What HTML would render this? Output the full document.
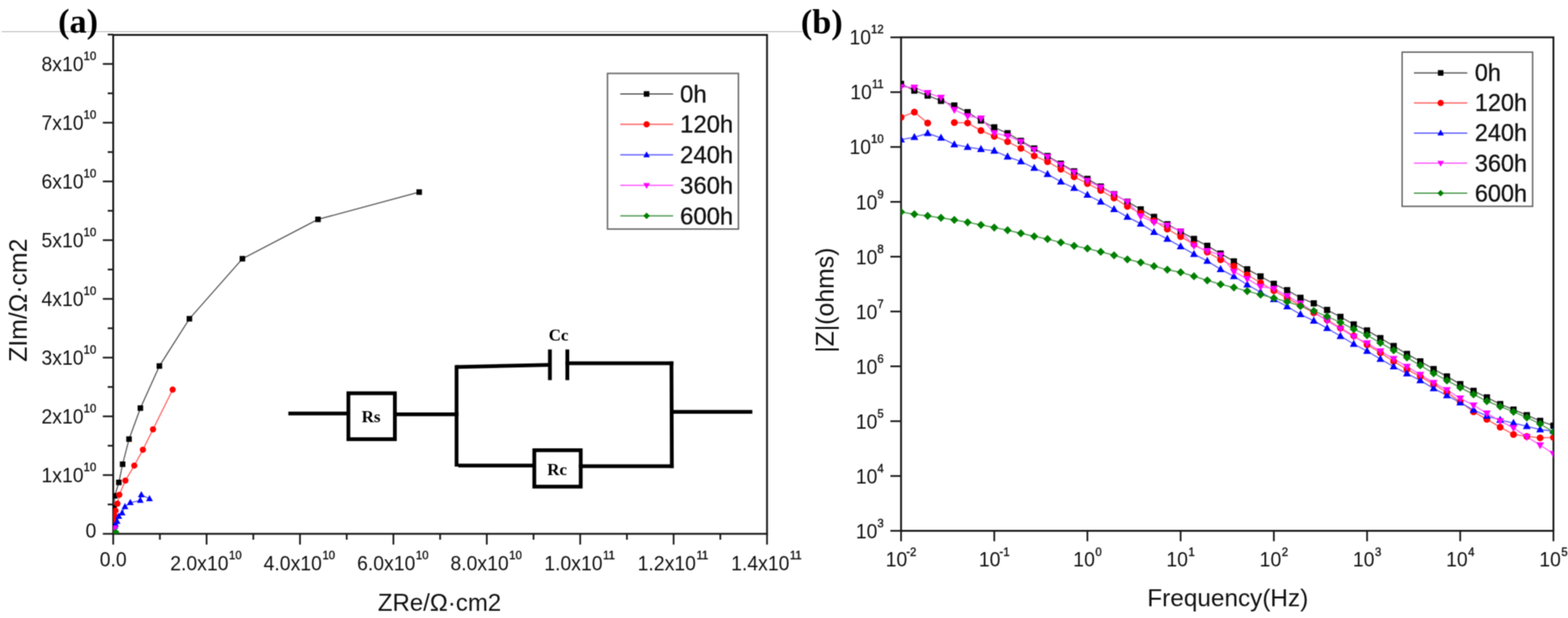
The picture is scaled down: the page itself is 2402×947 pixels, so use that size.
<!DOCTYPE html>
<html><head><meta charset="utf-8"><title>EIS plots</title>
<style>
html,body{margin:0;padding:0;background:#fff;}
body{width:2402px;height:947px;overflow:hidden;}
svg{display:block;}
#w{width:2402px;height:947px;}
</style></head>
<body><div id="w">
<svg width="2402" height="947" viewBox="0 0 2402 947">
<defs><filter id="soft" x="0" y="0" width="1" height="1" color-interpolation-filters="sRGB"><feConvolveMatrix order="3" kernelMatrix="1 2 1 2 4 2 1 2 1" divisor="16" edgeMode="duplicate"/></filter></defs>
<rect width="2402" height="947" fill="#fff"/>
<g filter="url(#soft)">
<rect width="2402" height="947" fill="#fff"/>
<line x1="2.5" y1="48.5" x2="1229" y2="48.5" stroke="#a0a0a0" stroke-width="1.1"/>
<rect x="173.4" y="53.5" width="1001.6" height="764.5" fill="none" stroke="#151515" stroke-width="2.8"/>
<line x1="157.5" y1="818.0" x2="173.4" y2="818.0" stroke="#151515" stroke-width="2.6"/>
<line x1="157.5" y1="728.0" x2="173.4" y2="728.0" stroke="#151515" stroke-width="2.6"/>
<line x1="157.5" y1="638.0" x2="173.4" y2="638.0" stroke="#151515" stroke-width="2.6"/>
<line x1="157.5" y1="548.0" x2="173.4" y2="548.0" stroke="#151515" stroke-width="2.6"/>
<line x1="157.5" y1="458.0" x2="173.4" y2="458.0" stroke="#151515" stroke-width="2.6"/>
<line x1="157.5" y1="368.0" x2="173.4" y2="368.0" stroke="#151515" stroke-width="2.6"/>
<line x1="157.5" y1="278.0" x2="173.4" y2="278.0" stroke="#151515" stroke-width="2.6"/>
<line x1="157.5" y1="188.0" x2="173.4" y2="188.0" stroke="#151515" stroke-width="2.6"/>
<line x1="157.5" y1="98.0" x2="173.4" y2="98.0" stroke="#151515" stroke-width="2.6"/>
<line x1="165" y1="773.0" x2="173.4" y2="773.0" stroke="#151515" stroke-width="2.6"/>
<line x1="165" y1="683.0" x2="173.4" y2="683.0" stroke="#151515" stroke-width="2.6"/>
<line x1="165" y1="593.0" x2="173.4" y2="593.0" stroke="#151515" stroke-width="2.6"/>
<line x1="165" y1="503.0" x2="173.4" y2="503.0" stroke="#151515" stroke-width="2.6"/>
<line x1="165" y1="413.0" x2="173.4" y2="413.0" stroke="#151515" stroke-width="2.6"/>
<line x1="165" y1="323.0" x2="173.4" y2="323.0" stroke="#151515" stroke-width="2.6"/>
<line x1="165" y1="233.0" x2="173.4" y2="233.0" stroke="#151515" stroke-width="2.6"/>
<line x1="165" y1="143.0" x2="173.4" y2="143.0" stroke="#151515" stroke-width="2.6"/>
<line x1="165" y1="53.0" x2="173.4" y2="53.0" stroke="#151515" stroke-width="2.6"/>
<line x1="173.4" y1="818.0" x2="173.4" y2="834.5" stroke="#151515" stroke-width="2.6"/>
<line x1="316.48571428571427" y1="818.0" x2="316.48571428571427" y2="834.5" stroke="#151515" stroke-width="2.6"/>
<line x1="459.57142857142856" y1="818.0" x2="459.57142857142856" y2="834.5" stroke="#151515" stroke-width="2.6"/>
<line x1="602.6571428571428" y1="818.0" x2="602.6571428571428" y2="834.5" stroke="#151515" stroke-width="2.6"/>
<line x1="745.7428571428571" y1="818.0" x2="745.7428571428571" y2="834.5" stroke="#151515" stroke-width="2.6"/>
<line x1="888.8285714285714" y1="818.0" x2="888.8285714285714" y2="834.5" stroke="#151515" stroke-width="2.6"/>
<line x1="1031.9142857142858" y1="818.0" x2="1031.9142857142858" y2="834.5" stroke="#151515" stroke-width="2.6"/>
<line x1="1175.0" y1="818.0" x2="1175.0" y2="834.5" stroke="#151515" stroke-width="2.6"/>
<line x1="244.94285714285715" y1="818.0" x2="244.94285714285715" y2="827" stroke="#151515" stroke-width="2.6"/>
<line x1="388.02857142857147" y1="818.0" x2="388.02857142857147" y2="827" stroke="#151515" stroke-width="2.6"/>
<line x1="531.1142857142858" y1="818.0" x2="531.1142857142858" y2="827" stroke="#151515" stroke-width="2.6"/>
<line x1="674.2" y1="818.0" x2="674.2" y2="827" stroke="#151515" stroke-width="2.6"/>
<line x1="817.2857142857143" y1="818.0" x2="817.2857142857143" y2="827" stroke="#151515" stroke-width="2.6"/>
<line x1="960.3714285714285" y1="818.0" x2="960.3714285714285" y2="827" stroke="#151515" stroke-width="2.6"/>
<line x1="1103.457142857143" y1="818.0" x2="1103.457142857143" y2="827" stroke="#151515" stroke-width="2.6"/>
<g font-family="Liberation Sans, Arial, sans-serif" fill="#111">
<text x="147.5" y="721.5" font-size="17.5" text-anchor="end" stroke="#111" stroke-width="0.5">10</text>
<text transform="translate(128.0,739.0) scale(0.93,1)" font-size="32.0" text-anchor="end">1x10</text>
<text x="147.5" y="631.5" font-size="17.5" text-anchor="end" stroke="#111" stroke-width="0.5">10</text>
<text transform="translate(128.0,649.0) scale(0.93,1)" font-size="32.0" text-anchor="end">2x10</text>
<text x="147.5" y="541.5" font-size="17.5" text-anchor="end" stroke="#111" stroke-width="0.5">10</text>
<text transform="translate(128.0,559.0) scale(0.93,1)" font-size="32.0" text-anchor="end">3x10</text>
<text x="147.5" y="451.5" font-size="17.5" text-anchor="end" stroke="#111" stroke-width="0.5">10</text>
<text transform="translate(128.0,469.0) scale(0.93,1)" font-size="32.0" text-anchor="end">4x10</text>
<text x="147.5" y="361.5" font-size="17.5" text-anchor="end" stroke="#111" stroke-width="0.5">10</text>
<text transform="translate(128.0,379.0) scale(0.93,1)" font-size="32.0" text-anchor="end">5x10</text>
<text x="147.5" y="271.5" font-size="17.5" text-anchor="end" stroke="#111" stroke-width="0.5">10</text>
<text transform="translate(128.0,289.0) scale(0.93,1)" font-size="32.0" text-anchor="end">6x10</text>
<text x="147.5" y="181.5" font-size="17.5" text-anchor="end" stroke="#111" stroke-width="0.5">10</text>
<text transform="translate(128.0,199.0) scale(0.93,1)" font-size="32.0" text-anchor="end">7x10</text>
<text x="147.5" y="91.5" font-size="17.5" text-anchor="end" stroke="#111" stroke-width="0.5">10</text>
<text transform="translate(128.0,109.0) scale(0.93,1)" font-size="32.0" text-anchor="end">8x10</text>
<text transform="translate(147.5,824.0) scale(0.93,1)" font-size="32.0" text-anchor="end">0</text>
<text transform="translate(152.7,867.5) scale(0.93,1)" font-size="32.0">0.0</text>
<text transform="translate(260.7,874.0) scale(0.93,1)" font-size="32.0">2.0x10</text>
<text x="350.8" y="856.7" font-size="17.5" stroke="#111" stroke-width="0.5">10</text>
<text transform="translate(403.8,874.0) scale(0.93,1)" font-size="32.0">4.0x10</text>
<text x="493.9" y="856.7" font-size="17.5" stroke="#111" stroke-width="0.5">10</text>
<text transform="translate(546.9,874.0) scale(0.93,1)" font-size="32.0">6.0x10</text>
<text x="637.0" y="856.7" font-size="17.5" stroke="#111" stroke-width="0.5">10</text>
<text transform="translate(690.0,874.0) scale(0.93,1)" font-size="32.0">8.0x10</text>
<text x="780.0" y="856.7" font-size="17.5" stroke="#111" stroke-width="0.5">10</text>
<text transform="translate(833.7,874.0) scale(0.93,1)" font-size="32.0">1.0x10</text>
<text x="923.8" y="856.7" font-size="17.5" stroke="#111" stroke-width="0.5">11</text>
<text transform="translate(976.8,874.0) scale(0.93,1)" font-size="32.0">1.2x10</text>
<text x="1066.9" y="856.7" font-size="17.5" stroke="#111" stroke-width="0.5">11</text>
<text transform="translate(1119.9,874.0) scale(0.93,1)" font-size="32.0">1.4x10</text>
<text x="1209.9" y="856.7" font-size="17.5" stroke="#111" stroke-width="0.5">11</text>
<text x="673.3" y="935.5" font-size="36.8" text-anchor="middle">ZRe/Ω·cm2</text>
<text transform="translate(40.5,460) rotate(-90)" x="0" y="0" font-size="38" text-anchor="middle">ZIm/Ω·cm2</text>
</g>
<text x="119.6" y="50" font-family="Liberation Serif, Times New Roman, serif" font-weight="bold" font-size="52.5" text-anchor="middle" fill="#000">(a)</text>
<text x="1258.8" y="51" font-family="Liberation Serif, Times New Roman, serif" font-weight="bold" font-size="52.5" text-anchor="middle" fill="#000">(b)</text>
<defs><clipPath id="cl"><rect x="173.4" y="53.5" width="1001.6" height="764.5"/></clipPath><clipPath id="cr"><rect x="1380.3" y="57.2" width="999.3999999999999" height="756.1999999999999"/></clipPath></defs>
<g clip-path="url(#cl)">
<path d="M642.1,294.4L487.1,336.2L371.4,396.5L290.2,488.5L244.2,560.9L215.1,625.4L197.7,672.9L187.8,711.4L182.1,739.2L175.7,759.9L174.6,778.0L174.0,795.0" fill="none" stroke="#5a5a5a" stroke-width="1.8"/>
<path d="M264.5,597.1L234.4,657.9L218.9,689.2L205.7,713.5L192.1,736.4L182.8,758.2L179.9,771.8L177.0,782.5L175.6,790.5L174.8,797.0" fill="none" stroke="#ff6060" stroke-width="1.8"/>
<path d="M229.0,764.2L216.5,758.2L214.8,766.8L199.6,770.3L191.4,776.4L187.0,785.9L181.9,791.1L179.3,798.9L177.0,803.5L176.0,806.5" fill="none" stroke="#6060ff" stroke-width="1.8"/>
<path d="M175.4,809.0L174.8,810.5" fill="none" stroke="#ff60ff" stroke-width="1.8"/>
<path d="M177.5,815.3L176.5,816.5" fill="none" stroke="#4c9a4c" stroke-width="1.8"/>
<rect x="637.9" y="290.1" width="8.5" height="8.5" fill="#000"/>
<rect x="482.9" y="331.9" width="8.5" height="8.5" fill="#000"/>
<rect x="367.1" y="392.2" width="8.5" height="8.5" fill="#000"/>
<rect x="285.9" y="484.2" width="8.5" height="8.5" fill="#000"/>
<rect x="239.9" y="556.6" width="8.5" height="8.5" fill="#000"/>
<rect x="210.8" y="621.1" width="8.5" height="8.5" fill="#000"/>
<rect x="193.4" y="668.6" width="8.5" height="8.5" fill="#000"/>
<rect x="183.6" y="707.1" width="8.5" height="8.5" fill="#000"/>
<rect x="177.8" y="735.0" width="8.5" height="8.5" fill="#000"/>
<rect x="171.4" y="755.6" width="8.5" height="8.5" fill="#000"/>
<rect x="170.3" y="773.8" width="8.5" height="8.5" fill="#000"/>
<rect x="169.8" y="790.8" width="8.5" height="8.5" fill="#000"/>
<circle cx="264.5" cy="597.1" r="4.75" fill="#f00"/>
<circle cx="234.4" cy="657.9" r="4.75" fill="#f00"/>
<circle cx="218.9" cy="689.2" r="4.75" fill="#f00"/>
<circle cx="205.7" cy="713.5" r="4.75" fill="#f00"/>
<circle cx="192.1" cy="736.4" r="4.75" fill="#f00"/>
<circle cx="182.8" cy="758.2" r="4.75" fill="#f00"/>
<circle cx="179.9" cy="771.8" r="4.75" fill="#f00"/>
<circle cx="177.0" cy="782.5" r="4.75" fill="#f00"/>
<circle cx="175.6" cy="790.5" r="4.75" fill="#f00"/>
<circle cx="174.8" cy="797.0" r="4.75" fill="#f00"/>
<path d="M229.0,758.5L234.2,768.0L223.8,768.0Z" fill="#00f"/>
<path d="M216.5,752.5L221.8,762.0L211.2,762.0Z" fill="#00f"/>
<path d="M214.8,761.1L220.1,770.6L209.6,770.6Z" fill="#00f"/>
<path d="M199.6,764.6L204.8,774.1L194.3,774.1Z" fill="#00f"/>
<path d="M191.4,770.7L196.7,780.2L186.2,780.2Z" fill="#00f"/>
<path d="M187.0,780.2L192.2,789.7L181.8,789.7Z" fill="#00f"/>
<path d="M181.9,785.4L187.2,794.9L176.7,794.9Z" fill="#00f"/>
<path d="M179.3,793.2L184.6,802.7L174.1,802.7Z" fill="#00f"/>
<path d="M177.0,797.8L182.2,807.3L171.8,807.3Z" fill="#00f"/>
<path d="M176.0,800.8L181.2,810.3L170.8,810.3Z" fill="#00f"/>
<path d="M175.4,814.7L180.7,805.2L170.2,805.2Z" fill="#f0f"/>
<path d="M174.8,816.2L180.1,806.7L169.6,806.7Z" fill="#f0f"/>
<path d="M177.5,810.0L182.8,815.3L177.5,820.5L172.2,815.3Z" fill="#008000"/>
<path d="M176.5,811.2L181.8,816.5L176.5,821.8L171.2,816.5Z" fill="#008000"/>
</g>
<rect x="930.6" y="112.5" width="200.6" height="238.5" fill="#fff" stroke="#666" stroke-width="2.2"/>
<line x1="950.2" y1="143.9" x2="1031.2" y2="143.9" stroke="#5a5a5a" stroke-width="2"/>
<rect x="986.2" y="139.7" width="8.5" height="8.5" fill="#000"/>
<text x="1041.8" y="156.7" font-family="Liberation Sans, Arial, sans-serif" font-size="36.6" fill="#111" stroke="#111" stroke-width="0.4">0h</text>
<line x1="950.2" y1="190.6" x2="1031.2" y2="190.6" stroke="#ff6060" stroke-width="2"/>
<circle cx="990.5" cy="190.6" r="4.75" fill="#f00"/>
<text x="1041.8" y="203.4" font-family="Liberation Sans, Arial, sans-serif" font-size="36.6" fill="#111" stroke="#111" stroke-width="0.4">120h</text>
<line x1="950.2" y1="237.3" x2="1031.2" y2="237.3" stroke="#6060ff" stroke-width="2"/>
<path d="M990.5,231.9L995.5,240.9L985.5,240.9Z" fill="#00f"/>
<text x="1041.8" y="250.1" font-family="Liberation Sans, Arial, sans-serif" font-size="36.6" fill="#111" stroke="#111" stroke-width="0.4">240h</text>
<line x1="950.2" y1="284.0" x2="1031.2" y2="284.0" stroke="#ff60ff" stroke-width="2"/>
<path d="M990.5,289.4L995.5,280.4L985.5,280.4Z" fill="#f0f"/>
<text x="1041.8" y="296.8" font-family="Liberation Sans, Arial, sans-serif" font-size="36.6" fill="#111" stroke="#111" stroke-width="0.4">360h</text>
<line x1="950.2" y1="330.7" x2="1031.2" y2="330.7" stroke="#4c9a4c" stroke-width="2"/>
<path d="M990.5,325.7L995.5,330.7L990.5,335.7L985.5,330.7Z" fill="#008000"/>
<text x="1041.8" y="343.5" font-family="Liberation Sans, Arial, sans-serif" font-size="36.6" fill="#111" stroke="#111" stroke-width="0.4">600h</text>
<g stroke="#000" stroke-width="5.8" fill="none" stroke-linecap="square">
<line x1="441.7" y1="633.6" x2="533.7" y2="633.6" stroke-linecap="butt"/>
<rect x="533.7" y="602.6" width="71.2" height="70.4"/>
<line x1="604.9" y1="634.8" x2="699.4" y2="634.8"/>
<line x1="699.4" y1="559.4" x2="699.4" y2="715" stroke-linecap="butt"/>
<line x1="699.4" y1="562.3" x2="842.4" y2="559.2" stroke-linecap="butt"/>
<line x1="842.4" y1="535.5" x2="842.4" y2="582.5" stroke-linecap="butt"/>
<line x1="869.1" y1="535.5" x2="869.1" y2="582.5" stroke-linecap="butt"/>
<line x1="869.1" y1="556.7" x2="1028.6" y2="556.7"/>
<line x1="1028.6" y1="556.7" x2="1029.2" y2="714.4"/>
<line x1="702" y1="713.4" x2="818.5" y2="713.4" stroke-linecap="butt"/>
<rect x="818.5" y="689.9" width="71.1" height="55.8"/>
<line x1="889.6" y1="714.4" x2="1029.2" y2="714.4"/>
<line x1="1029.2" y1="631.2" x2="1152.5" y2="631.2" stroke-linecap="butt"/>
</g>
<g font-family="Liberation Serif, Times New Roman, serif" font-weight="bold" font-size="26" fill="#000" text-anchor="middle">
<text x="568.4" y="647">Rs</text>
<text x="853.4" y="727.5">Rc</text>
<text x="855.6" y="521.5">Cc</text>
</g>
<rect x="1380.3" y="57.2" width="999.3999999999999" height="756.1999999999999" fill="none" stroke="#151515" stroke-width="2.8"/>
<line x1="1364" y1="57.2" x2="1380.3" y2="57.2" stroke="#151515" stroke-width="2.6"/>
<line x1="1364" y1="141.2" x2="1380.3" y2="141.2" stroke="#151515" stroke-width="2.6"/>
<line x1="1364" y1="225.2" x2="1380.3" y2="225.2" stroke="#151515" stroke-width="2.6"/>
<line x1="1364" y1="309.3" x2="1380.3" y2="309.3" stroke="#151515" stroke-width="2.6"/>
<line x1="1364" y1="393.3" x2="1380.3" y2="393.3" stroke="#151515" stroke-width="2.6"/>
<line x1="1364" y1="477.3" x2="1380.3" y2="477.3" stroke="#151515" stroke-width="2.6"/>
<line x1="1364" y1="561.3" x2="1380.3" y2="561.3" stroke="#151515" stroke-width="2.6"/>
<line x1="1364" y1="645.4" x2="1380.3" y2="645.4" stroke="#151515" stroke-width="2.6"/>
<line x1="1364" y1="729.4" x2="1380.3" y2="729.4" stroke="#151515" stroke-width="2.6"/>
<line x1="1364" y1="813.4" x2="1380.3" y2="813.4" stroke="#151515" stroke-width="2.6"/>
<line x1="1380.3" y1="813.4" x2="1380.3" y2="829.4" stroke="#151515" stroke-width="2.6"/>
<line x1="1523.1" y1="813.4" x2="1523.1" y2="829.4" stroke="#151515" stroke-width="2.6"/>
<line x1="1665.8" y1="813.4" x2="1665.8" y2="829.4" stroke="#151515" stroke-width="2.6"/>
<line x1="1808.6" y1="813.4" x2="1808.6" y2="829.4" stroke="#151515" stroke-width="2.6"/>
<line x1="1951.4" y1="813.4" x2="1951.4" y2="829.4" stroke="#151515" stroke-width="2.6"/>
<line x1="2094.2" y1="813.4" x2="2094.2" y2="829.4" stroke="#151515" stroke-width="2.6"/>
<line x1="2236.9" y1="813.4" x2="2236.9" y2="829.4" stroke="#151515" stroke-width="2.6"/>
<line x1="2379.7" y1="813.4" x2="2379.7" y2="829.4" stroke="#151515" stroke-width="2.6"/>
<g font-family="Liberation Sans, Arial, sans-serif" fill="#111">
<text x="1353.8" y="51.4" font-size="17.5" text-anchor="end" stroke="#111" stroke-width="0.5">12</text>
<text transform="translate(1334.3,68.4) scale(0.93,1)" font-size="32.0" text-anchor="end">10</text>
<text x="1353.8" y="135.4" font-size="17.5" text-anchor="end" stroke="#111" stroke-width="0.5">11</text>
<text transform="translate(1335.6,152.4) scale(0.93,1)" font-size="32.0" text-anchor="end">10</text>
<text x="1353.8" y="219.4" font-size="17.5" text-anchor="end" stroke="#111" stroke-width="0.5">10</text>
<text transform="translate(1334.3,236.4) scale(0.93,1)" font-size="32.0" text-anchor="end">10</text>
<text x="1353.8" y="303.5" font-size="17.5" text-anchor="end" stroke="#111" stroke-width="0.5">9</text>
<text transform="translate(1344.1,320.5) scale(0.93,1)" font-size="32.0" text-anchor="end">10</text>
<text x="1353.8" y="387.5" font-size="17.5" text-anchor="end" stroke="#111" stroke-width="0.5">8</text>
<text transform="translate(1344.1,404.5) scale(0.93,1)" font-size="32.0" text-anchor="end">10</text>
<text x="1353.8" y="471.5" font-size="17.5" text-anchor="end" stroke="#111" stroke-width="0.5">7</text>
<text transform="translate(1344.1,488.5) scale(0.93,1)" font-size="32.0" text-anchor="end">10</text>
<text x="1353.8" y="555.5" font-size="17.5" text-anchor="end" stroke="#111" stroke-width="0.5">6</text>
<text transform="translate(1344.1,572.5) scale(0.93,1)" font-size="32.0" text-anchor="end">10</text>
<text x="1353.8" y="639.6" font-size="17.5" text-anchor="end" stroke="#111" stroke-width="0.5">5</text>
<text transform="translate(1344.1,656.6) scale(0.93,1)" font-size="32.0" text-anchor="end">10</text>
<text x="1353.8" y="723.6" font-size="17.5" text-anchor="end" stroke="#111" stroke-width="0.5">4</text>
<text transform="translate(1344.1,740.6) scale(0.93,1)" font-size="32.0" text-anchor="end">10</text>
<text x="1353.8" y="807.6" font-size="17.5" text-anchor="end" stroke="#111" stroke-width="0.5">3</text>
<text transform="translate(1344.1,824.6) scale(0.93,1)" font-size="32.0" text-anchor="end">10</text>
<text transform="translate(1356.7,868.0) scale(0.93,1)" font-size="32.0">10</text>
<text x="1388.3" y="851.8" font-size="17.5" stroke="#111" stroke-width="0.5">-2</text>
<text transform="translate(1499.5,868.0) scale(0.93,1)" font-size="32.0">10</text>
<text x="1531.1" y="851.8" font-size="17.5" stroke="#111" stroke-width="0.5">-1</text>
<text transform="translate(1644.1,868.0) scale(0.93,1)" font-size="32.0">10</text>
<text x="1677.9" y="851.8" font-size="17.5" stroke="#111" stroke-width="0.5">0</text>
<text transform="translate(1786.8,868.0) scale(0.93,1)" font-size="32.0">10</text>
<text x="1820.6" y="851.8" font-size="17.5" stroke="#111" stroke-width="0.5">1</text>
<text transform="translate(1929.6,868.0) scale(0.93,1)" font-size="32.0">10</text>
<text x="1963.4" y="851.8" font-size="17.5" stroke="#111" stroke-width="0.5">2</text>
<text transform="translate(2072.4,868.0) scale(0.93,1)" font-size="32.0">10</text>
<text x="2106.2" y="851.8" font-size="17.5" stroke="#111" stroke-width="0.5">3</text>
<text transform="translate(2215.2,868.0) scale(0.93,1)" font-size="32.0">10</text>
<text x="2249.0" y="851.8" font-size="17.5" stroke="#111" stroke-width="0.5">4</text>
<text transform="translate(2357.9,868.0) scale(0.93,1)" font-size="32.0">10</text>
<text x="2391.7" y="851.8" font-size="17.5" stroke="#111" stroke-width="0.5">5</text>
<text x="1880.8" y="928.7" font-size="37.3" text-anchor="middle">Frequency(Hz)</text>
<text transform="translate(1277,460) rotate(-90)" font-size="38" text-anchor="middle">|Z|(ohms)</text>
</g>
<g clip-path="url(#cr)">
<path d="M1380.3,128.5L1400.7,138.8L1421.1,146.4L1441.5,154.5L1461.9,161.7L1482.3,172.0L1502.7,184.7L1523.1,195.2L1543.5,204.2L1563.9,215.9L1584.3,227.5L1604.7,239.2L1625.1,250.8L1645.4,262.5L1665.8,274.2L1686.2,285.8L1706.6,297.5L1727.0,309.1L1747.4,320.8L1767.8,332.4L1788.2,343.6L1808.6,354.9L1829.0,366.1L1849.4,376.6L1869.8,388.6L1890.2,400.5L1910.6,412.6L1931.0,423.5L1951.4,435.0L1971.8,444.7L1992.2,456.3L2012.6,464.8L2033.0,475.0L2053.4,485.5L2073.8,497.2L2094.2,506.4L2114.6,518.1L2134.9,530.3L2155.3,542.4L2175.7,553.8L2196.1,565.5L2216.5,576.9L2236.9,588.6L2257.3,599.0L2277.7,609.0L2298.1,619.3L2318.5,627.6L2338.9,636.2L2359.3,645.0L2379.7,652.4" fill="none" stroke="#5a5a5a" stroke-width="1.8"/>
<path d="M1380.3,179.7L1400.7,171.7L1421.1,188.5" fill="none" stroke="#ff6060" stroke-width="1.8"/>
<path d="M1461.9,187.8L1482.3,188.4L1502.7,200.1L1523.1,208.9L1543.5,217.1L1563.9,227.3L1584.3,238.9L1604.7,247.8L1625.1,259.2L1645.4,270.9L1665.8,281.3L1686.2,291.8L1706.6,303.4L1727.0,316.2L1747.4,326.6L1767.8,338.2L1788.2,351.0L1808.6,362.6L1829.0,374.4L1849.4,386.2L1869.8,398.0L1890.2,407.7L1910.6,421.1L1931.0,433.3L1951.4,445.4L1971.8,456.7L1992.2,468.1L2012.6,479.4L2033.0,490.3L2053.4,502.5L2073.8,514.6L2094.2,528.3L2114.6,540.5L2134.9,553.8L2155.3,566.0L2175.7,576.9L2196.1,589.0L2216.5,601.2L2236.9,615.8L2257.3,631.0L2277.7,642.6L2298.1,654.6L2318.5,665.7L2338.9,668.7L2359.3,670.9L2379.7,670.4" fill="none" stroke="#ff6060" stroke-width="1.8"/>
<path d="M1380.3,213.9L1400.7,210.3L1421.1,204.3L1441.5,211.3L1461.9,221.4L1482.3,225.4L1502.7,228.6L1523.1,231.1L1543.5,240.1L1563.9,247.5L1584.3,257.5L1604.7,266.9L1625.1,278.5L1645.4,288.3L1665.8,298.7L1686.2,309.2L1706.6,320.8L1727.0,332.4L1747.4,342.9L1767.8,355.7L1788.2,366.1L1808.6,377.7L1829.0,389.4L1849.4,400.0L1869.8,412.6L1890.2,423.5L1910.6,436.2L1931.0,447.8L1951.4,458.8L1971.8,469.7L1992.2,481.8L2012.6,491.6L2033.0,503.0L2053.4,515.1L2073.8,527.3L2094.2,538.0L2114.6,550.2L2134.9,561.8L2155.3,572.5L2175.7,583.0L2196.1,595.1L2216.5,606.0L2236.9,617.0L2257.3,628.3L2277.7,637.4L2298.1,643.6L2318.5,648.3L2338.9,653.1L2359.3,658.3L2379.7,660.5" fill="none" stroke="#6060ff" stroke-width="1.8"/>
<path d="M1380.3,133.0L1400.7,134.0L1421.1,142.3L1441.5,149.5L1461.9,168.0L1482.3,177.8L1502.7,181.4L1523.1,203.7L1543.5,208.5L1563.9,217.0L1584.3,229.4L1604.7,240.3L1625.1,252.3L1645.4,263.9L1665.8,276.7L1686.2,287.1L1706.6,297.6L1727.0,309.2L1747.4,331.3L1767.8,340.6L1788.2,345.2L1808.6,354.5L1829.0,376.6L1849.4,384.3L1869.8,390.7L1890.2,416.2L1910.6,427.2L1931.0,439.3L1951.4,442.2L1971.8,453.9L1992.2,464.8L2012.6,478.2L2033.0,491.6L2053.4,503.7L2073.8,515.9L2094.2,525.9L2114.6,538.0L2134.9,549.7L2155.3,561.8L2175.7,574.0L2196.1,586.6L2216.5,597.5L2236.9,610.4L2257.3,621.0L2277.7,633.2L2298.1,645.0L2318.5,655.6L2338.9,669.4L2359.3,682.0L2379.7,695.3" fill="none" stroke="#ff60ff" stroke-width="1.8"/>
<path d="M1380.3,324.8L1400.7,328.3L1421.1,330.8L1441.5,333.8L1461.9,337.0L1482.3,340.6L1502.7,344.6L1523.1,348.6L1543.5,352.8L1563.9,357.5L1584.3,362.1L1604.7,366.3L1625.1,371.5L1645.4,376.6L1665.8,380.8L1686.2,385.9L1706.6,391.2L1727.0,397.5L1747.4,402.1L1767.8,407.9L1788.2,413.3L1808.6,417.2L1829.0,423.4L1849.4,429.6L1869.8,435.7L1890.2,440.5L1910.6,446.1L1931.0,451.5L1951.4,456.8L1971.8,462.4L1992.2,469.0L2012.6,476.5L2033.0,485.0L2053.4,494.0L2073.8,504.4L2094.2,513.7L2114.6,525.4L2134.9,536.8L2155.3,547.7L2175.7,559.9L2196.1,572.0L2216.5,583.0L2236.9,593.9L2257.3,604.4L2277.7,614.7L2298.1,622.9L2318.5,631.0L2338.9,639.8L2359.3,649.5L2379.7,662.0" fill="none" stroke="#4c9a4c" stroke-width="1.8"/>
<rect x="1375.5" y="123.8" width="9.5" height="9.5" fill="#000"/>
<rect x="1395.9" y="134.1" width="9.5" height="9.5" fill="#000"/>
<rect x="1416.3" y="141.7" width="9.5" height="9.5" fill="#000"/>
<rect x="1436.7" y="149.8" width="9.5" height="9.5" fill="#000"/>
<rect x="1457.1" y="156.9" width="9.5" height="9.5" fill="#000"/>
<rect x="1477.5" y="167.2" width="9.5" height="9.5" fill="#000"/>
<rect x="1497.9" y="179.9" width="9.5" height="9.5" fill="#000"/>
<rect x="1518.3" y="190.4" width="9.5" height="9.5" fill="#000"/>
<rect x="1538.7" y="199.4" width="9.5" height="9.5" fill="#000"/>
<rect x="1559.1" y="211.1" width="9.5" height="9.5" fill="#000"/>
<rect x="1579.5" y="222.8" width="9.5" height="9.5" fill="#000"/>
<rect x="1599.9" y="234.4" width="9.5" height="9.5" fill="#000"/>
<rect x="1620.3" y="246.1" width="9.5" height="9.5" fill="#000"/>
<rect x="1640.7" y="257.8" width="9.5" height="9.5" fill="#000"/>
<rect x="1661.1" y="269.4" width="9.5" height="9.5" fill="#000"/>
<rect x="1681.5" y="281.1" width="9.5" height="9.5" fill="#000"/>
<rect x="1701.9" y="292.7" width="9.5" height="9.5" fill="#000"/>
<rect x="1722.3" y="304.4" width="9.5" height="9.5" fill="#000"/>
<rect x="1742.7" y="316.1" width="9.5" height="9.5" fill="#000"/>
<rect x="1763.1" y="327.6" width="9.5" height="9.5" fill="#000"/>
<rect x="1783.5" y="338.9" width="9.5" height="9.5" fill="#000"/>
<rect x="1803.9" y="350.1" width="9.5" height="9.5" fill="#000"/>
<rect x="1824.3" y="361.4" width="9.5" height="9.5" fill="#000"/>
<rect x="1844.7" y="371.9" width="9.5" height="9.5" fill="#000"/>
<rect x="1865.1" y="383.8" width="9.5" height="9.5" fill="#000"/>
<rect x="1885.4" y="395.8" width="9.5" height="9.5" fill="#000"/>
<rect x="1905.8" y="407.9" width="9.5" height="9.5" fill="#000"/>
<rect x="1926.2" y="418.8" width="9.5" height="9.5" fill="#000"/>
<rect x="1946.6" y="430.2" width="9.5" height="9.5" fill="#000"/>
<rect x="1967.0" y="439.9" width="9.5" height="9.5" fill="#000"/>
<rect x="1987.4" y="451.6" width="9.5" height="9.5" fill="#000"/>
<rect x="2007.8" y="460.1" width="9.5" height="9.5" fill="#000"/>
<rect x="2028.2" y="470.2" width="9.5" height="9.5" fill="#000"/>
<rect x="2048.6" y="480.8" width="9.5" height="9.5" fill="#000"/>
<rect x="2069.0" y="492.4" width="9.5" height="9.5" fill="#000"/>
<rect x="2089.4" y="501.6" width="9.5" height="9.5" fill="#000"/>
<rect x="2109.8" y="513.4" width="9.5" height="9.5" fill="#000"/>
<rect x="2130.2" y="525.5" width="9.5" height="9.5" fill="#000"/>
<rect x="2150.6" y="537.6" width="9.5" height="9.5" fill="#000"/>
<rect x="2171.0" y="549.0" width="9.5" height="9.5" fill="#000"/>
<rect x="2191.4" y="560.8" width="9.5" height="9.5" fill="#000"/>
<rect x="2211.8" y="572.1" width="9.5" height="9.5" fill="#000"/>
<rect x="2232.2" y="583.9" width="9.5" height="9.5" fill="#000"/>
<rect x="2252.6" y="594.2" width="9.5" height="9.5" fill="#000"/>
<rect x="2273.0" y="604.2" width="9.5" height="9.5" fill="#000"/>
<rect x="2293.4" y="614.5" width="9.5" height="9.5" fill="#000"/>
<rect x="2313.8" y="622.9" width="9.5" height="9.5" fill="#000"/>
<rect x="2334.2" y="631.5" width="9.5" height="9.5" fill="#000"/>
<rect x="2354.6" y="640.2" width="9.5" height="9.5" fill="#000"/>
<rect x="2374.9" y="647.6" width="9.5" height="9.5" fill="#000"/>
<circle cx="1380.3" cy="179.7" r="5.25" fill="#f00"/>
<circle cx="1400.7" cy="171.7" r="5.25" fill="#f00"/>
<circle cx="1421.1" cy="188.5" r="5.25" fill="#f00"/>
<circle cx="1461.9" cy="187.8" r="5.25" fill="#f00"/>
<circle cx="1482.3" cy="188.4" r="5.25" fill="#f00"/>
<circle cx="1502.7" cy="200.1" r="5.25" fill="#f00"/>
<circle cx="1523.1" cy="208.9" r="5.25" fill="#f00"/>
<circle cx="1543.5" cy="217.1" r="5.25" fill="#f00"/>
<circle cx="1563.9" cy="227.3" r="5.25" fill="#f00"/>
<circle cx="1584.3" cy="238.9" r="5.25" fill="#f00"/>
<circle cx="1604.7" cy="247.8" r="5.25" fill="#f00"/>
<circle cx="1625.1" cy="259.2" r="5.25" fill="#f00"/>
<circle cx="1645.4" cy="270.9" r="5.25" fill="#f00"/>
<circle cx="1665.8" cy="281.3" r="5.25" fill="#f00"/>
<circle cx="1686.2" cy="291.8" r="5.25" fill="#f00"/>
<circle cx="1706.6" cy="303.4" r="5.25" fill="#f00"/>
<circle cx="1727.0" cy="316.2" r="5.25" fill="#f00"/>
<circle cx="1747.4" cy="326.6" r="5.25" fill="#f00"/>
<circle cx="1767.8" cy="338.2" r="5.25" fill="#f00"/>
<circle cx="1788.2" cy="351.0" r="5.25" fill="#f00"/>
<circle cx="1808.6" cy="362.6" r="5.25" fill="#f00"/>
<circle cx="1829.0" cy="374.4" r="5.25" fill="#f00"/>
<circle cx="1849.4" cy="386.2" r="5.25" fill="#f00"/>
<circle cx="1869.8" cy="398.0" r="5.25" fill="#f00"/>
<circle cx="1890.2" cy="407.7" r="5.25" fill="#f00"/>
<circle cx="1910.6" cy="421.1" r="5.25" fill="#f00"/>
<circle cx="1931.0" cy="433.3" r="5.25" fill="#f00"/>
<circle cx="1951.4" cy="445.4" r="5.25" fill="#f00"/>
<circle cx="1971.8" cy="456.7" r="5.25" fill="#f00"/>
<circle cx="1992.2" cy="468.1" r="5.25" fill="#f00"/>
<circle cx="2012.6" cy="479.4" r="5.25" fill="#f00"/>
<circle cx="2033.0" cy="490.3" r="5.25" fill="#f00"/>
<circle cx="2053.4" cy="502.5" r="5.25" fill="#f00"/>
<circle cx="2073.8" cy="514.6" r="5.25" fill="#f00"/>
<circle cx="2094.2" cy="528.3" r="5.25" fill="#f00"/>
<circle cx="2114.6" cy="540.5" r="5.25" fill="#f00"/>
<circle cx="2134.9" cy="553.8" r="5.25" fill="#f00"/>
<circle cx="2155.3" cy="566.0" r="5.25" fill="#f00"/>
<circle cx="2175.7" cy="576.9" r="5.25" fill="#f00"/>
<circle cx="2196.1" cy="589.0" r="5.25" fill="#f00"/>
<circle cx="2216.5" cy="601.2" r="5.25" fill="#f00"/>
<circle cx="2236.9" cy="615.8" r="5.25" fill="#f00"/>
<circle cx="2257.3" cy="631.0" r="5.25" fill="#f00"/>
<circle cx="2277.7" cy="642.6" r="5.25" fill="#f00"/>
<circle cx="2298.1" cy="654.6" r="5.25" fill="#f00"/>
<circle cx="2318.5" cy="665.7" r="5.25" fill="#f00"/>
<circle cx="2338.9" cy="668.7" r="5.25" fill="#f00"/>
<circle cx="2359.3" cy="670.9" r="5.25" fill="#f00"/>
<circle cx="2379.7" cy="670.4" r="5.25" fill="#f00"/>
<path d="M1380.3,207.4L1386.3,218.2L1374.3,218.2Z" fill="#00f"/>
<path d="M1400.7,203.8L1406.7,214.6L1394.7,214.6Z" fill="#00f"/>
<path d="M1421.1,197.8L1427.1,208.6L1415.1,208.6Z" fill="#00f"/>
<path d="M1441.5,204.8L1447.5,215.6L1435.5,215.6Z" fill="#00f"/>
<path d="M1461.9,214.9L1467.9,225.7L1455.9,225.7Z" fill="#00f"/>
<path d="M1482.3,218.9L1488.3,229.7L1476.3,229.7Z" fill="#00f"/>
<path d="M1502.7,222.1L1508.7,232.9L1496.7,232.9Z" fill="#00f"/>
<path d="M1523.1,224.6L1529.1,235.4L1517.1,235.4Z" fill="#00f"/>
<path d="M1543.5,233.6L1549.5,244.4L1537.5,244.4Z" fill="#00f"/>
<path d="M1563.9,241.0L1569.9,251.8L1557.9,251.8Z" fill="#00f"/>
<path d="M1584.3,251.0L1590.3,261.8L1578.3,261.8Z" fill="#00f"/>
<path d="M1604.7,260.4L1610.7,271.2L1598.7,271.2Z" fill="#00f"/>
<path d="M1625.1,272.0L1631.1,282.8L1619.1,282.8Z" fill="#00f"/>
<path d="M1645.4,281.8L1651.4,292.6L1639.4,292.6Z" fill="#00f"/>
<path d="M1665.8,292.2L1671.8,303.0L1659.8,303.0Z" fill="#00f"/>
<path d="M1686.2,302.7L1692.2,313.5L1680.2,313.5Z" fill="#00f"/>
<path d="M1706.6,314.3L1712.6,325.1L1700.6,325.1Z" fill="#00f"/>
<path d="M1727.0,325.9L1733.0,336.7L1721.0,336.7Z" fill="#00f"/>
<path d="M1747.4,336.4L1753.4,347.2L1741.4,347.2Z" fill="#00f"/>
<path d="M1767.8,349.2L1773.8,360.0L1761.8,360.0Z" fill="#00f"/>
<path d="M1788.2,359.6L1794.2,370.4L1782.2,370.4Z" fill="#00f"/>
<path d="M1808.6,371.2L1814.6,382.0L1802.6,382.0Z" fill="#00f"/>
<path d="M1829.0,382.9L1835.0,393.7L1823.0,393.7Z" fill="#00f"/>
<path d="M1849.4,393.5L1855.4,404.3L1843.4,404.3Z" fill="#00f"/>
<path d="M1869.8,406.1L1875.8,416.9L1863.8,416.9Z" fill="#00f"/>
<path d="M1890.2,417.0L1896.2,427.8L1884.2,427.8Z" fill="#00f"/>
<path d="M1910.6,429.7L1916.6,440.5L1904.6,440.5Z" fill="#00f"/>
<path d="M1931.0,441.3L1937.0,452.1L1925.0,452.1Z" fill="#00f"/>
<path d="M1951.4,452.3L1957.4,463.1L1945.4,463.1Z" fill="#00f"/>
<path d="M1971.8,463.2L1977.8,474.0L1965.8,474.0Z" fill="#00f"/>
<path d="M1992.2,475.3L1998.2,486.1L1986.2,486.1Z" fill="#00f"/>
<path d="M2012.6,485.1L2018.6,495.9L2006.6,495.9Z" fill="#00f"/>
<path d="M2033.0,496.5L2039.0,507.3L2027.0,507.3Z" fill="#00f"/>
<path d="M2053.4,508.6L2059.4,519.4L2047.4,519.4Z" fill="#00f"/>
<path d="M2073.8,520.8L2079.8,531.6L2067.8,531.6Z" fill="#00f"/>
<path d="M2094.2,531.5L2100.2,542.3L2088.2,542.3Z" fill="#00f"/>
<path d="M2114.6,543.7L2120.6,554.5L2108.6,554.5Z" fill="#00f"/>
<path d="M2134.9,555.3L2140.9,566.1L2128.9,566.1Z" fill="#00f"/>
<path d="M2155.3,566.0L2161.3,576.8L2149.3,576.8Z" fill="#00f"/>
<path d="M2175.7,576.5L2181.7,587.3L2169.7,587.3Z" fill="#00f"/>
<path d="M2196.1,588.6L2202.1,599.4L2190.1,599.4Z" fill="#00f"/>
<path d="M2216.5,599.5L2222.5,610.3L2210.5,610.3Z" fill="#00f"/>
<path d="M2236.9,610.5L2242.9,621.3L2230.9,621.3Z" fill="#00f"/>
<path d="M2257.3,621.8L2263.3,632.6L2251.3,632.6Z" fill="#00f"/>
<path d="M2277.7,630.9L2283.7,641.7L2271.7,641.7Z" fill="#00f"/>
<path d="M2298.1,637.1L2304.1,647.9L2292.1,647.9Z" fill="#00f"/>
<path d="M2318.5,641.8L2324.5,652.6L2312.5,652.6Z" fill="#00f"/>
<path d="M2338.9,646.6L2344.9,657.4L2332.9,657.4Z" fill="#00f"/>
<path d="M2359.3,651.8L2365.3,662.6L2353.3,662.6Z" fill="#00f"/>
<path d="M2379.7,654.0L2385.7,664.8L2373.7,664.8Z" fill="#00f"/>
<path d="M1380.3,139.5L1386.3,128.7L1374.3,128.7Z" fill="#f0f"/>
<path d="M1400.7,140.5L1406.7,129.7L1394.7,129.7Z" fill="#f0f"/>
<path d="M1421.1,148.8L1427.1,138.0L1415.1,138.0Z" fill="#f0f"/>
<path d="M1441.5,156.0L1447.5,145.2L1435.5,145.2Z" fill="#f0f"/>
<path d="M1461.9,174.5L1467.9,163.7L1455.9,163.7Z" fill="#f0f"/>
<path d="M1482.3,184.3L1488.3,173.5L1476.3,173.5Z" fill="#f0f"/>
<path d="M1502.7,187.9L1508.7,177.1L1496.7,177.1Z" fill="#f0f"/>
<path d="M1523.1,210.2L1529.1,199.4L1517.1,199.4Z" fill="#f0f"/>
<path d="M1543.5,215.0L1549.5,204.2L1537.5,204.2Z" fill="#f0f"/>
<path d="M1563.9,223.5L1569.9,212.7L1557.9,212.7Z" fill="#f0f"/>
<path d="M1584.3,235.9L1590.3,225.1L1578.3,225.1Z" fill="#f0f"/>
<path d="M1604.7,246.8L1610.7,236.0L1598.7,236.0Z" fill="#f0f"/>
<path d="M1625.1,258.8L1631.1,248.0L1619.1,248.0Z" fill="#f0f"/>
<path d="M1645.4,270.4L1651.4,259.6L1639.4,259.6Z" fill="#f0f"/>
<path d="M1665.8,283.2L1671.8,272.4L1659.8,272.4Z" fill="#f0f"/>
<path d="M1686.2,293.6L1692.2,282.8L1680.2,282.8Z" fill="#f0f"/>
<path d="M1706.6,304.1L1712.6,293.3L1700.6,293.3Z" fill="#f0f"/>
<path d="M1727.0,315.7L1733.0,304.9L1721.0,304.9Z" fill="#f0f"/>
<path d="M1747.4,337.8L1753.4,327.0L1741.4,327.0Z" fill="#f0f"/>
<path d="M1767.8,347.1L1773.8,336.3L1761.8,336.3Z" fill="#f0f"/>
<path d="M1788.2,351.7L1794.2,340.9L1782.2,340.9Z" fill="#f0f"/>
<path d="M1808.6,361.0L1814.6,350.2L1802.6,350.2Z" fill="#f0f"/>
<path d="M1829.0,383.1L1835.0,372.3L1823.0,372.3Z" fill="#f0f"/>
<path d="M1849.4,390.8L1855.4,380.0L1843.4,380.0Z" fill="#f0f"/>
<path d="M1869.8,397.2L1875.8,386.4L1863.8,386.4Z" fill="#f0f"/>
<path d="M1890.2,422.7L1896.2,411.9L1884.2,411.9Z" fill="#f0f"/>
<path d="M1910.6,433.7L1916.6,422.9L1904.6,422.9Z" fill="#f0f"/>
<path d="M1931.0,445.8L1937.0,435.0L1925.0,435.0Z" fill="#f0f"/>
<path d="M1951.4,448.7L1957.4,437.9L1945.4,437.9Z" fill="#f0f"/>
<path d="M1971.8,460.4L1977.8,449.6L1965.8,449.6Z" fill="#f0f"/>
<path d="M1992.2,471.3L1998.2,460.5L1986.2,460.5Z" fill="#f0f"/>
<path d="M2012.6,484.7L2018.6,473.9L2006.6,473.9Z" fill="#f0f"/>
<path d="M2033.0,498.1L2039.0,487.3L2027.0,487.3Z" fill="#f0f"/>
<path d="M2053.4,510.2L2059.4,499.4L2047.4,499.4Z" fill="#f0f"/>
<path d="M2073.8,522.4L2079.8,511.6L2067.8,511.6Z" fill="#f0f"/>
<path d="M2094.2,532.4L2100.2,521.6L2088.2,521.6Z" fill="#f0f"/>
<path d="M2114.6,544.5L2120.6,533.7L2108.6,533.7Z" fill="#f0f"/>
<path d="M2134.9,556.2L2140.9,545.4L2128.9,545.4Z" fill="#f0f"/>
<path d="M2155.3,568.3L2161.3,557.5L2149.3,557.5Z" fill="#f0f"/>
<path d="M2175.7,580.5L2181.7,569.7L2169.7,569.7Z" fill="#f0f"/>
<path d="M2196.1,593.1L2202.1,582.3L2190.1,582.3Z" fill="#f0f"/>
<path d="M2216.5,604.0L2222.5,593.2L2210.5,593.2Z" fill="#f0f"/>
<path d="M2236.9,616.9L2242.9,606.1L2230.9,606.1Z" fill="#f0f"/>
<path d="M2257.3,627.5L2263.3,616.7L2251.3,616.7Z" fill="#f0f"/>
<path d="M2277.7,639.7L2283.7,628.9L2271.7,628.9Z" fill="#f0f"/>
<path d="M2298.1,651.5L2304.1,640.7L2292.1,640.7Z" fill="#f0f"/>
<path d="M2318.5,662.1L2324.5,651.3L2312.5,651.3Z" fill="#f0f"/>
<path d="M2338.9,675.9L2344.9,665.1L2332.9,665.1Z" fill="#f0f"/>
<path d="M2359.3,688.5L2365.3,677.7L2353.3,677.7Z" fill="#f0f"/>
<path d="M2379.7,701.8L2385.7,691.0L2373.7,691.0Z" fill="#f0f"/>
<path d="M1380.3,318.6L1386.5,324.8L1380.3,331.1L1374.0,324.8Z" fill="#008000"/>
<path d="M1400.7,322.1L1406.9,328.3L1400.7,334.6L1394.4,328.3Z" fill="#008000"/>
<path d="M1421.1,324.6L1427.3,330.8L1421.1,337.1L1414.8,330.8Z" fill="#008000"/>
<path d="M1441.5,327.6L1447.7,333.8L1441.5,340.1L1435.2,333.8Z" fill="#008000"/>
<path d="M1461.9,330.8L1468.1,337.0L1461.9,343.2L1455.6,337.0Z" fill="#008000"/>
<path d="M1482.3,334.4L1488.5,340.6L1482.3,346.9L1476.0,340.6Z" fill="#008000"/>
<path d="M1502.7,338.4L1508.9,344.6L1502.7,350.9L1496.4,344.6Z" fill="#008000"/>
<path d="M1523.1,342.4L1529.3,348.6L1523.1,354.9L1516.8,348.6Z" fill="#008000"/>
<path d="M1543.5,346.6L1549.7,352.8L1543.5,359.1L1537.2,352.8Z" fill="#008000"/>
<path d="M1563.9,351.2L1570.1,357.5L1563.9,363.8L1557.6,357.5Z" fill="#008000"/>
<path d="M1584.3,355.9L1590.5,362.1L1584.3,368.4L1578.0,362.1Z" fill="#008000"/>
<path d="M1604.7,360.1L1610.9,366.3L1604.7,372.6L1598.4,366.3Z" fill="#008000"/>
<path d="M1625.1,365.2L1631.3,371.5L1625.1,377.8L1618.8,371.5Z" fill="#008000"/>
<path d="M1645.4,370.4L1651.7,376.6L1645.4,382.9L1639.2,376.6Z" fill="#008000"/>
<path d="M1665.8,374.6L1672.1,380.8L1665.8,387.1L1659.6,380.8Z" fill="#008000"/>
<path d="M1686.2,379.6L1692.5,385.9L1686.2,392.1L1680.0,385.9Z" fill="#008000"/>
<path d="M1706.6,384.9L1712.9,391.2L1706.6,397.4L1700.4,391.2Z" fill="#008000"/>
<path d="M1727.0,391.2L1733.3,397.5L1727.0,403.8L1720.8,397.5Z" fill="#008000"/>
<path d="M1747.4,395.9L1753.7,402.1L1747.4,408.4L1741.2,402.1Z" fill="#008000"/>
<path d="M1767.8,401.6L1774.1,407.9L1767.8,414.1L1761.6,407.9Z" fill="#008000"/>
<path d="M1788.2,407.1L1794.5,413.3L1788.2,419.6L1782.0,413.3Z" fill="#008000"/>
<path d="M1808.6,410.9L1814.9,417.2L1808.6,423.4L1802.4,417.2Z" fill="#008000"/>
<path d="M1829.0,417.1L1835.3,423.4L1829.0,429.6L1822.8,423.4Z" fill="#008000"/>
<path d="M1849.4,423.4L1855.7,429.6L1849.4,435.9L1843.2,429.6Z" fill="#008000"/>
<path d="M1869.8,429.4L1876.1,435.7L1869.8,441.9L1863.6,435.7Z" fill="#008000"/>
<path d="M1890.2,434.2L1896.4,440.5L1890.2,446.8L1883.9,440.5Z" fill="#008000"/>
<path d="M1910.6,439.9L1916.8,446.1L1910.6,452.4L1904.3,446.1Z" fill="#008000"/>
<path d="M1931.0,445.2L1937.2,451.5L1931.0,457.8L1924.7,451.5Z" fill="#008000"/>
<path d="M1951.4,450.6L1957.6,456.8L1951.4,463.1L1945.1,456.8Z" fill="#008000"/>
<path d="M1971.8,456.1L1978.0,462.4L1971.8,468.6L1965.5,462.4Z" fill="#008000"/>
<path d="M1992.2,462.8L1998.4,469.0L1992.2,475.2L1985.9,469.0Z" fill="#008000"/>
<path d="M2012.6,470.2L2018.8,476.5L2012.6,482.8L2006.3,476.5Z" fill="#008000"/>
<path d="M2033.0,478.8L2039.2,485.0L2033.0,491.2L2026.7,485.0Z" fill="#008000"/>
<path d="M2053.4,487.8L2059.6,494.0L2053.4,500.2L2047.1,494.0Z" fill="#008000"/>
<path d="M2073.8,498.1L2080.0,504.4L2073.8,510.6L2067.5,504.4Z" fill="#008000"/>
<path d="M2094.2,507.5L2100.4,513.7L2094.2,520.0L2087.9,513.7Z" fill="#008000"/>
<path d="M2114.6,519.1L2120.8,525.4L2114.6,531.6L2108.3,525.4Z" fill="#008000"/>
<path d="M2134.9,530.5L2141.2,536.8L2134.9,543.0L2128.7,536.8Z" fill="#008000"/>
<path d="M2155.3,541.5L2161.6,547.7L2155.3,554.0L2149.1,547.7Z" fill="#008000"/>
<path d="M2175.7,553.6L2182.0,559.9L2175.7,566.1L2169.5,559.9Z" fill="#008000"/>
<path d="M2196.1,565.8L2202.4,572.0L2196.1,578.2L2189.9,572.0Z" fill="#008000"/>
<path d="M2216.5,576.8L2222.8,583.0L2216.5,589.2L2210.3,583.0Z" fill="#008000"/>
<path d="M2236.9,587.6L2243.2,593.9L2236.9,600.1L2230.7,593.9Z" fill="#008000"/>
<path d="M2257.3,598.1L2263.6,604.4L2257.3,610.6L2251.1,604.4Z" fill="#008000"/>
<path d="M2277.7,608.5L2284.0,614.7L2277.7,621.0L2271.5,614.7Z" fill="#008000"/>
<path d="M2298.1,616.6L2304.4,622.9L2298.1,629.1L2291.9,622.9Z" fill="#008000"/>
<path d="M2318.5,624.8L2324.8,631.0L2318.5,637.2L2312.3,631.0Z" fill="#008000"/>
<path d="M2338.9,633.5L2345.2,639.8L2338.9,646.0L2332.7,639.8Z" fill="#008000"/>
<path d="M2359.3,643.2L2365.6,649.5L2359.3,655.8L2353.1,649.5Z" fill="#008000"/>
<path d="M2379.7,655.8L2385.9,662.0L2379.7,668.2L2373.4,662.0Z" fill="#008000"/>
</g>
<rect x="2147.9" y="79.9" width="199.9" height="236.3" fill="#fff" stroke="#666" stroke-width="2.2"/>
<line x1="2166" y1="111.7" x2="2247.7" y2="111.7" stroke="#5a5a5a" stroke-width="2"/>
<rect x="2202.7" y="107.5" width="8.5" height="8.5" fill="#000"/>
<text x="2259.2" y="124.2" font-family="Liberation Sans, Arial, sans-serif" font-size="36" fill="#111" stroke="#111" stroke-width="0.4">0h</text>
<line x1="2166" y1="157.8" x2="2247.7" y2="157.8" stroke="#ff6060" stroke-width="2"/>
<circle cx="2206.9" cy="157.8" r="4.75" fill="#f00"/>
<text x="2259.2" y="170.3" font-family="Liberation Sans, Arial, sans-serif" font-size="36" fill="#111" stroke="#111" stroke-width="0.4">120h</text>
<line x1="2166" y1="203.9" x2="2247.7" y2="203.9" stroke="#6060ff" stroke-width="2"/>
<path d="M2206.9,198.5L2211.9,207.5L2201.9,207.5Z" fill="#00f"/>
<text x="2259.2" y="216.4" font-family="Liberation Sans, Arial, sans-serif" font-size="36" fill="#111" stroke="#111" stroke-width="0.4">240h</text>
<line x1="2166" y1="250.0" x2="2247.7" y2="250.0" stroke="#ff60ff" stroke-width="2"/>
<path d="M2206.9,255.4L2211.9,246.4L2201.9,246.4Z" fill="#f0f"/>
<text x="2259.2" y="262.5" font-family="Liberation Sans, Arial, sans-serif" font-size="36" fill="#111" stroke="#111" stroke-width="0.4">360h</text>
<line x1="2166" y1="296.1" x2="2247.7" y2="296.1" stroke="#4c9a4c" stroke-width="2"/>
<path d="M2206.9,291.1L2211.9,296.1L2206.9,301.1L2201.9,296.1Z" fill="#008000"/>
<text x="2259.2" y="308.6" font-family="Liberation Sans, Arial, sans-serif" font-size="36" fill="#111" stroke="#111" stroke-width="0.4">600h</text>
</g>
</svg></div>
</body></html>
